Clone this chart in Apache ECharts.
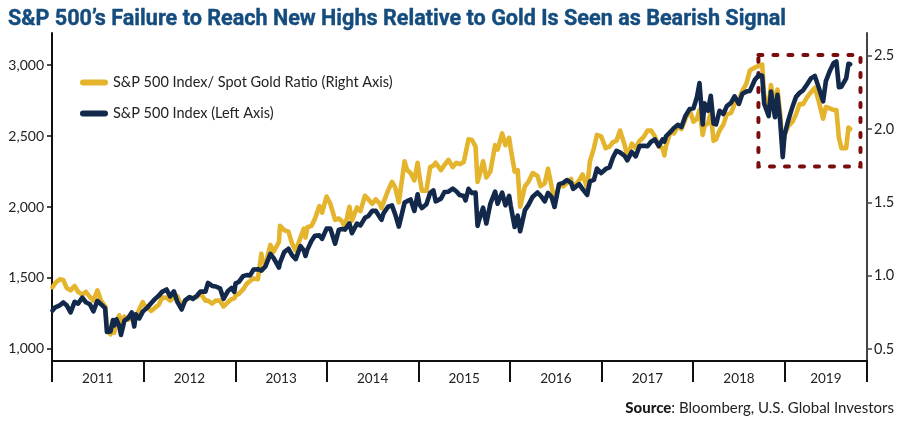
<!DOCTYPE html>
<html><head><meta charset="utf-8">
<script src="https://cdn.jsdelivr.net/npm/echarts@6/dist/echarts.min.js"></script>
<style>html,body{margin:0;padding:0;background:#fff}#c{width:900px;height:423px}</style>
</head><body><div id="c"></div>
<script>
const titleText = "S&P 500\u2019s Failure to Reach New Highs Relative to Gold Is Seen as Bearish Signal";
const legendNames = ["S&P 500 Index/ Spot Gold Ratio (Right Axis)", "S&P 500 Index (Left Axis)"];
const years = ["2011","2012","2013","2014","2015","2016","2017","2018","2019"];
const leftTicks = [1000, 1500, 2000, 2500, 3000];
const rightTicks = [0.5, 1.0, 1.5, 2.0, 2.5];
const highlightDates = ["2018-09-18", "2019-10-30"];
const highlightRatio = [1.745, 2.505];

const dates = [
"2011-01-03","2011-01-14","2011-02-01","2011-02-15","2011-03-01","2011-03-16","2011-04-01","2011-04-15","2011-05-02","2011-05-16","2011-06-01","2011-06-15","2011-07-01","2011-07-15","2011-08-01","2011-08-08","2011-08-22","2011-09-01","2011-09-06","2011-09-15","2011-09-26","2011-10-03","2011-10-17","2011-11-01","2011-11-15","2011-11-25","2011-12-01","2011-12-15","2011-12-29",
"2012-01-03","2012-01-17","2012-02-01","2012-02-15","2012-03-01","2012-03-15","2012-04-02","2012-04-16","2012-05-01","2012-05-15","2012-06-01","2012-06-15","2012-07-02","2012-07-16","2012-08-01","2012-08-15","2012-09-04","2012-09-14","2012-10-01","2012-10-15","2012-11-01","2012-11-15","2012-12-03","2012-12-17","2012-12-28",
"2013-01-02","2013-01-15","2013-02-01","2013-02-15","2013-03-01","2013-03-15","2013-04-01","2013-04-15","2013-04-18","2013-05-01","2013-05-21","2013-06-03","2013-06-24","2013-06-28","2013-07-15","2013-08-01","2013-08-15","2013-08-30","2013-09-18","2013-10-01","2013-10-08","2013-10-15","2013-11-01","2013-11-15","2013-12-02","2013-12-13","2013-12-31",
"2014-01-15","2014-02-03","2014-02-18","2014-03-03","2014-03-14","2014-04-01","2014-04-11","2014-05-01","2014-05-15","2014-06-02","2014-06-16","2014-07-01","2014-07-15","2014-08-01","2014-08-07","2014-08-15","2014-09-02","2014-09-18","2014-10-01","2014-10-15","2014-11-07","2014-11-17","2014-12-01","2014-12-16","2014-12-29",
"2015-01-05","2015-01-15","2015-02-02","2015-02-17","2015-03-02","2015-03-11","2015-04-01","2015-04-15","2015-05-01","2015-05-18","2015-06-01","2015-06-15","2015-07-01","2015-07-08","2015-07-20","2015-08-03","2015-08-17","2015-08-25","2015-09-01","2015-09-16","2015-09-29","2015-10-15","2015-11-03","2015-11-13","2015-12-01","2015-12-14","2015-12-29",
"2016-01-04","2016-01-20","2016-02-01","2016-02-11","2016-03-01","2016-03-15","2016-04-01","2016-04-20","2016-05-02","2016-05-19","2016-06-01","2016-06-15","2016-06-27","2016-07-15","2016-08-01","2016-08-15","2016-09-01","2016-09-09","2016-10-03","2016-10-17","2016-11-04","2016-11-15","2016-12-01","2016-12-13","2016-12-30",
"2017-01-17","2017-02-01","2017-02-15","2017-03-01","2017-03-15","2017-04-03","2017-04-13","2017-05-01","2017-05-17","2017-06-01","2017-06-15","2017-07-03","2017-07-17","2017-08-01","2017-08-17","2017-09-01","2017-09-08","2017-09-15","2017-10-02","2017-10-16","2017-11-01","2017-11-15","2017-12-01","2017-12-18",
"2018-01-02","2018-01-16","2018-01-26","2018-02-08","2018-02-15","2018-03-01","2018-03-12","2018-03-23","2018-04-02","2018-04-16","2018-05-01","2018-05-15","2018-06-01","2018-06-15","2018-07-02","2018-07-16","2018-08-01","2018-08-15","2018-09-04","2018-09-20","2018-10-03","2018-10-11","2018-10-29","2018-11-07","2018-11-23","2018-12-03","2018-12-14","2018-12-24","2018-12-31",
"2019-01-15","2019-02-01","2019-02-15","2019-03-01","2019-03-15","2019-04-01","2019-04-15","2019-05-01","2019-05-15","2019-06-03","2019-06-14","2019-07-01","2019-07-15","2019-07-26","2019-08-05","2019-08-15","2019-09-03","2019-09-12","2019-09-19"
];

const spx = [
1271,1293,1307,1328,1306,1257,1332,1319,1361,1329,1315,1265,1339,1316,1287,1119,1123,1204,1165,1209,1162,1099,1200,1218,1257,1158,1244,1215,1263,
1277,1293,1324,1351,1374,1402,1419,1370,1406,1331,1278,1342,1365,1353,1375,1405,1404,1465,1444,1440,1427,1353,1409,1430,1402,
1462,1472,1513,1520,1518,1560,1562,1552,1541,1582,1669,1640,1573,1606,1682,1706,1661,1633,1725,1695,1655,1698,1762,1798,1800,1775,1848,
1848,1741,1840,1845,1841,1885,1815,1883,1870,1924,1937,1973,1973,1925,1910,1955,2002,2011,1946,1862,2031,2041,2053,1972,2090,
2020,1992,2020,2100,2117,2040,2059,2106,2108,2129,2111,2084,2077,2046,2128,2098,2102,1867,1914,1995,1884,2023,2109,2023,2102,2012,2078,
2012,1859,1940,1829,1978,2015,2073,2102,2081,2040,2099,2071,2000,2161,2170,2190,2170,2128,2161,2126,2085,2180,2191,2271,2239,
2268,2279,2349,2396,2385,2359,2329,2388,2357,2430,2432,2429,2460,2476,2430,2477,2461,2500,2529,2557,2579,2564,2642,2690,
2695,2776,2873,2581,2731,2678,2784,2588,2582,2678,2655,2711,2735,2780,2726,2798,2813,2818,2897,2931,2925,2728,2641,2814,2633,2790,2600,2351,2507,
2610,2707,2776,2804,2822,2867,2906,2924,2850,2744,2887,2964,3014,3025,2844,2848,2906,3009,3006
];

const ratio = [
0.92,0.95,0.975,0.97,0.915,0.90,0.93,0.89,0.87,0.89,0.855,0.83,0.90,0.83,0.79,0.65,0.60,0.66,0.61,0.68,0.73,0.67,0.72,0.70,0.71,0.685,0.71,0.77,0.82,
0.80,0.78,0.76,0.78,0.80,0.85,0.85,0.83,0.85,0.86,0.79,0.83,0.85,0.85,0.855,0.88,0.83,0.83,0.81,0.83,0.83,0.79,0.82,0.84,0.845,
0.865,0.876,0.906,0.944,0.964,0.981,0.976,1.15,1.11,1.076,1.21,1.163,1.23,1.34,1.31,1.30,1.22,1.17,1.26,1.32,1.26,1.33,1.34,1.39,1.475,1.43,1.54,
1.49,1.38,1.39,1.37,1.33,1.47,1.375,1.465,1.44,1.545,1.52,1.49,1.52,1.49,1.46,1.50,1.58,1.64,1.60,1.50,1.78,1.72,1.70,1.65,1.77,
1.68,1.58,1.58,1.74,1.75,1.77,1.72,1.755,1.79,1.74,1.77,1.76,1.775,1.77,1.93,1.925,1.88,1.64,1.68,1.78,1.67,1.71,1.89,1.86,1.97,1.89,1.94,
1.87,1.71,1.72,1.47,1.61,1.64,1.70,1.68,1.61,1.63,1.73,1.61,1.51,1.62,1.61,1.63,1.66,1.60,1.65,1.69,1.60,1.78,1.87,1.96,1.95,
1.87,1.88,1.91,1.92,1.99,1.89,1.81,1.90,1.87,1.92,1.94,1.99,1.99,1.95,1.88,1.87,1.82,1.89,1.98,1.97,2.02,2.00,2.07,2.13,
2.05,2.07,2.13,1.96,2.02,2.04,2.11,1.92,1.93,1.99,2.03,2.10,2.11,2.17,2.20,2.26,2.31,2.40,2.42,2.43,2.44,2.23,2.15,2.30,2.15,2.27,2.10,1.85,1.96,
2.02,2.05,2.10,2.17,2.17,2.22,2.25,2.28,2.20,2.07,2.15,2.14,2.13,2.13,1.94,1.87,1.87,2.01,2.00
];

const ts = s => { const p = s.split('-').map(Number); return Date.UTC(p[0], p[1]-1, p[2]); };
const xMin = ts("2011-01-01");
const xMax = ts("2019-11-25");
const yearStarts = years.map(y => ts(y + "-01-01"));
const tickVals = yearStarts.concat([xMax]);
const labelVals = yearStarts.map((v, i) => (v + tickVals[i+1]) / 2);
const labelMap = {};
labelVals.forEach((v, i) => { labelMap[Math.round(v)] = years[i]; });

const GOLD = '#E4B42C', NAVY = '#13294B';
const font = 'Lato, "Noto Sans", sans-serif';

const chart = echarts.init(document.getElementById('c'), null, {renderer: 'canvas'});
chart.setOption({
  animation: false,
  backgroundColor: '#fff',
  title: {
    text: titleText, left: 3, top: 4,
    textStyle: {fontFamily: '"Liberation Sans Narrow", "Roboto", sans-serif', fontWeight: 'bold', fontSize: 21.6, color: '#154C7E',
      textBorderColor: '#154C7E', textBorderWidth: 0.4}
  },
  graphic: [{
    type: 'text', right: 6, top: 401,
    style: {
      text: '{b|Source}: Bloomberg, U.S. Global Investors',
      rich: {b: {fontWeight: 900, fontFamily: font, fontSize: 15, fill: '#1a1a1a'}},
      font: '15px ' + font, fill: '#222'
    }
  }],
  legend: {
    orient: 'vertical', left: 75, top: 70, itemGap: 16,
    itemWidth: 28, itemHeight: 6,
    icon: 'path://M3,0 H25 A3,3 0 0 1 25,6 H3 A3,3 0 0 1 3,0 Z',
    textStyle: {fontFamily: font, fontSize: 14.5, color: '#222', padding: [0,0,0,0]},
    data: legendNames
  },
  grid: {left: 52, right: 33, top: 33, bottom: 62, containLabel: false},
  xAxis: {
    type: 'value', min: xMin, max: xMax,
    axisLine: {lineStyle: {color: '#111', width: 2}},
    axisTick: {show: true, length: 21, lineStyle: {color: '#111', width: 2}, customValues: tickVals},
    axisLabel: {
      customValues: labelVals, margin: 11, fontFamily: font, fontSize: 13.5, color: '#222',
      formatter: v => labelMap[Math.round(v)] || ''
    },
    splitLine: {show: false}
  },
  yAxis: [{
    type: 'value', min: 915, max: 3226, position: 'left',
    axisLine: {show: true, lineStyle: {color: '#111', width: 2}},
    axisTick: {show: true, length: 5, lineStyle: {color: '#111', width: 1.5}, customValues: leftTicks},
    axisLabel: {customValues: leftTicks, margin: 8, fontFamily: font, fontSize: 14, color: '#222',
      formatter: v => v.toLocaleString('en-US')},
    splitLine: {show: false}
  }, {
    type: 'value', min: 0.418, max: 2.655, position: 'right',
    axisLine: {show: true, lineStyle: {color: '#444', width: 2}},
    axisTick: {show: true, length: 5, lineStyle: {color: '#444', width: 1.5}, customValues: rightTicks},
    axisLabel: {customValues: rightTicks, margin: 7, fontFamily: font, fontSize: 14.5, color: '#222',
      formatter: v => v.toFixed(1)},
    splitLine: {show: false}
  }],
  series: [{
    name: legendNames[0], type: 'line', yAxisIndex: 1, showSymbol: false, symbol: 'none',
    data: dates.map((d, i) => [ts(d), ratio[i]]),
    lineStyle: {color: GOLD, width: 4.6, join: 'round', cap: 'round'}, itemStyle: {color: GOLD},
    markArea: {
      silent: true,
      itemStyle: {color: 'rgba(0,0,0,0)', borderColor: '#7B0C0C', borderWidth: 4, borderType: [4, 11], borderCap: 'round'},
      data: [[{xAxis: ts(highlightDates[0]), yAxis: highlightRatio[1]}, {xAxis: ts(highlightDates[1]), yAxis: highlightRatio[0]}]]
    }
  }, {
    name: legendNames[1], type: 'line', yAxisIndex: 0, showSymbol: false, symbol: 'none',
    data: dates.map((d, i) => [ts(d), spx[i]]),
    lineStyle: {color: NAVY, width: 4.6, join: 'round', cap: 'round'}, itemStyle: {color: NAVY}
  }]
});
</script></body></html>
